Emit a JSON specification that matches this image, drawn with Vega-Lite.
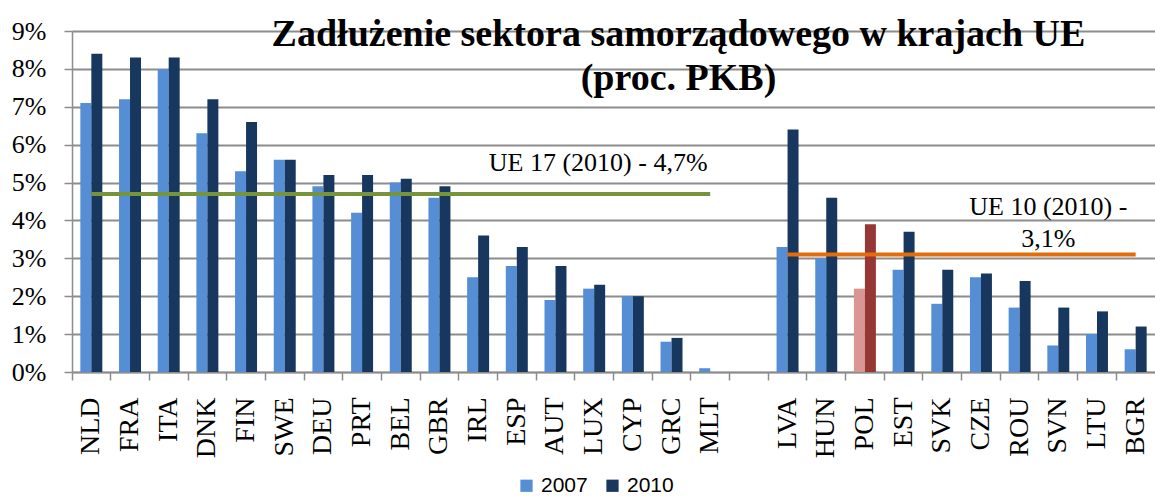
{
  "$schema": "https://vega.github.io/schema/vega-lite/v6.json",
  "width": 1083,
  "height": 341,
  "autosize": "none",
  "padding": {"left": 72, "top": 31, "right": 0, "bottom": 124},
  "background": "white",
  "title": {
    "text": ["Zadłużenie sektora samorządowego w krajach UE", "(proc. PKB)"],
    "font": "Liberation Serif",
    "fontSize": 38,
    "fontWeight": "bold",
    "color": "black",
    "anchor": "middle",
    "baseline": "top",
    "offset": 0,
    "dx": 65,
    "dy": 80,
    "lineHeight": 44
  },
  "config": {
    "view": {"stroke": null},
    "axis": {
      "domainColor": "#8c8c8c",
      "tickColor": "#8c8c8c",
      "gridColor": "#8c8c8c",
      "labelFont": "Liberation Serif",
      "labelColor": "black",
      "title": null
    }
  },
  "datasets": {
    "bars": [
      {"c": "NLD", "y": "2007", "v": 7.1, "k": "2007"}, {"c": "NLD", "y": "2010", "v": 8.4, "k": "2010"},
      {"c": "FRA", "y": "2007", "v": 7.2, "k": "2007"}, {"c": "FRA", "y": "2010", "v": 8.3, "k": "2010"},
      {"c": "ITA", "y": "2007", "v": 8.0, "k": "2007"}, {"c": "ITA", "y": "2010", "v": 8.3, "k": "2010"},
      {"c": "DNK", "y": "2007", "v": 6.3, "k": "2007"}, {"c": "DNK", "y": "2010", "v": 7.2, "k": "2010"},
      {"c": "FIN", "y": "2007", "v": 5.3, "k": "2007"}, {"c": "FIN", "y": "2010", "v": 6.6, "k": "2010"},
      {"c": "SWE", "y": "2007", "v": 5.6, "k": "2007"}, {"c": "SWE", "y": "2010", "v": 5.6, "k": "2010"},
      {"c": "DEU", "y": "2007", "v": 4.9, "k": "2007"}, {"c": "DEU", "y": "2010", "v": 5.2, "k": "2010"},
      {"c": "PRT", "y": "2007", "v": 4.2, "k": "2007"}, {"c": "PRT", "y": "2010", "v": 5.2, "k": "2010"},
      {"c": "BEL", "y": "2007", "v": 5.0, "k": "2007"}, {"c": "BEL", "y": "2010", "v": 5.1, "k": "2010"},
      {"c": "GBR", "y": "2007", "v": 4.6, "k": "2007"}, {"c": "GBR", "y": "2010", "v": 4.9, "k": "2010"},
      {"c": "IRL", "y": "2007", "v": 2.5, "k": "2007"}, {"c": "IRL", "y": "2010", "v": 3.6, "k": "2010"},
      {"c": "ESP", "y": "2007", "v": 2.8, "k": "2007"}, {"c": "ESP", "y": "2010", "v": 3.3, "k": "2010"},
      {"c": "AUT", "y": "2007", "v": 1.9, "k": "2007"}, {"c": "AUT", "y": "2010", "v": 2.8, "k": "2010"},
      {"c": "LUX", "y": "2007", "v": 2.2, "k": "2007"}, {"c": "LUX", "y": "2010", "v": 2.3, "k": "2010"},
      {"c": "CYP", "y": "2007", "v": 2.0, "k": "2007"}, {"c": "CYP", "y": "2010", "v": 2.0, "k": "2010"},
      {"c": "GRC", "y": "2007", "v": 0.8, "k": "2007"}, {"c": "GRC", "y": "2010", "v": 0.9, "k": "2010"},
      {"c": "MLT", "y": "2007", "v": 0.1, "k": "2007"},
      {"c": "LVA", "y": "2007", "v": 3.3, "k": "2007"}, {"c": "LVA", "y": "2010", "v": 6.4, "k": "2010"},
      {"c": "HUN", "y": "2007", "v": 3.0, "k": "2007"}, {"c": "HUN", "y": "2010", "v": 4.6, "k": "2010"},
      {"c": "POL", "y": "2007", "v": 2.2, "k": "POL2007"}, {"c": "POL", "y": "2010", "v": 3.9, "k": "POL2010"},
      {"c": "EST", "y": "2007", "v": 2.7, "k": "2007"}, {"c": "EST", "y": "2010", "v": 3.7, "k": "2010"},
      {"c": "SVK", "y": "2007", "v": 1.8, "k": "2007"}, {"c": "SVK", "y": "2010", "v": 2.7, "k": "2010"},
      {"c": "CZE", "y": "2007", "v": 2.5, "k": "2007"}, {"c": "CZE", "y": "2010", "v": 2.6, "k": "2010"},
      {"c": "ROU", "y": "2007", "v": 1.7, "k": "2007"}, {"c": "ROU", "y": "2010", "v": 2.4, "k": "2010"},
      {"c": "SVN", "y": "2007", "v": 0.7, "k": "2007"}, {"c": "SVN", "y": "2010", "v": 1.7, "k": "2010"},
      {"c": "LTU", "y": "2007", "v": 1.0, "k": "2007"}, {"c": "LTU", "y": "2010", "v": 1.6, "k": "2010"},
      {"c": "BGR", "y": "2007", "v": 0.6, "k": "2007"}, {"c": "BGR", "y": "2010", "v": 1.2, "k": "2010"}
    ],
    "ue17": [{"c": "NLD", "v": 4.7}, {"c": "MLT", "v": 4.7}],
    "ue10": [{"c": "LVA", "v": 3.1}, {"c": "BGR", "v": 3.1}],
    "lab17": [{"c": "LUX", "v": 4.7, "t": "UE 17 (2010) - 4,7%"}],
    "lab10": [{"c": "SVN", "v": 3.1, "t": "UE 10 (2010)  -\n3,1%"}]
  },
  "encoding": {
    "x": {
      "field": "c",
      "type": "nominal",
      "sort": null,
      "scale": {
        "domain": ["NLD","FRA","ITA","DNK","FIN","SWE","DEU","PRT","BEL","GBR","IRL","ESP","AUT","LUX","CYP","GRC","MLT","gap","LVA","HUN","POL","EST","SVK","CZE","ROU","SVN","LTU","BGR"],
        "paddingInner": 0,
        "paddingOuter": 0
      },
      "axis": {
        "labelAngle": -90,
        "labelFontSize": 28,
        "labelPadding": 17,
        "tickSize": 8,
        "tickWidth": 1.5,
        "domainWidth": 1.5,
        "bandPosition": 0,
        "labelExpr": "datum.value == 'gap' ? '' : datum.value"
      }
    },
    "y": {
      "field": "v",
      "type": "quantitative",
      "scale": {"domain": [0, 9], "nice": false},
      "axis": {
        "values": [0,1,2,3,4,5,6,7,8,9],
        "labelExpr": "datum.value + '%'",
        "labelFontSize": 26,
        "labelPadding": 18,
        "tickSize": 8,
        "tickWidth": 1.5,
        "domainWidth": 1.5,
        "gridWidth": 1.8
      }
    }
  },
  "layer": [
    {
      "data": {"name": "bars"},
      "mark": {"type": "bar"},
      "encoding": {
        "xOffset": {"field": "y", "type": "nominal", "scale": {"paddingInner": 0, "paddingOuter": 0.76}},
        "color": {
          "field": "k",
          "type": "nominal",
          "scale": {"domain": ["2007","2010","POL2007","POL2010"], "range": ["#558ED5","#17375E","#D99694","#953735"]},
          "legend": {
            "values": ["2007","2010"],
            "title": null,
            "orient": "none",
            "legendX": 444,
            "legendY": 444,
            "direction": "horizontal",
            "symbolType": "square",
            "symbolSize": 150,
            "symbolStrokeWidth": 0,
            "labelFont": "Liberation Sans",
            "labelFontSize": 21,
            "labelColor": "black",
            "labelOffset": 4,
            "columnPadding": 14
          }
        }
      }
    },
    {
      "data": {"name": "ue17"},
      "mark": {"type": "line", "color": "#77933C", "strokeWidth": 4}
    },
    {
      "data": {"name": "ue10"},
      "mark": {"type": "line", "color": "#E46C0A", "strokeWidth": 4}
    },
    {
      "data": {"name": "lab17"},
      "mark": {"type": "text", "font": "Liberation Serif", "fontSize": 26, "color": "black", "dx": 4, "dy": -23, "baseline": "alphabetic"},
      "encoding": {"text": {"field": "t"}}
    },
    {
      "data": {"name": "lab10"},
      "mark": {"type": "text", "font": "Liberation Serif", "fontSize": 26, "color": "black", "dx": -10, "dy": -40, "baseline": "alphabetic", "lineBreak": "\n", "lineHeight": 32},
      "encoding": {"text": {"field": "t"}}
    }
  ]
}
